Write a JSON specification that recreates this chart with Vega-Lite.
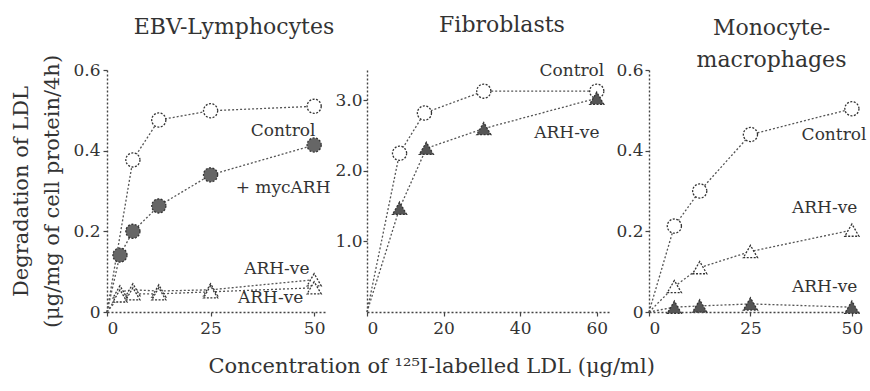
{
  "$schema": "https://vega.github.io/schema/vega-lite/v6.json",
  "padding": {"left": 10, "top": 14, "right": 5, "bottom": 5},
  "background": "white",
  "bounds": "flush",
  "spacing": 40,
  "config": {
    "font": "DejaVu Serif",
    "view": {"stroke": null},
    "axis": {
      "domainDash": [2, 2], "domainColor": "#444", "domainWidth": 1.4,
      "tickColor": "#444", "tickSize": 4, "tickWidth": 1.2,
      "labelFont": "DejaVu Serif", "labelFontSize": 17, "labelColor": "#333",
      "grid": false, "titleFont": "DejaVu Serif", "titleFontWeight": "normal", "titleColor": "#333"
    },
    "title": {"font": "DejaVu Serif", "fontWeight": "normal", "color": "#333", "fontSize": 22}
  },
  "title": {"text": "Concentration of ¹²⁵I-labelled LDL  (μg/ml)", "orient": "bottom", "anchor": "middle", "fontSize": 21, "offset": 20, "dx": -7},
  "resolve": {"scale": {"x": "independent", "y": "independent", "shape": "independent", "fill": "independent"}},
  "datasets": {
    "curves": [
      {"panel": "EBV", "series": "Control", "conc": 0, "deg": 0},
      {"panel": "EBV", "series": "Control", "conc": 6.25, "deg": 0.377},
      {"panel": "EBV", "series": "Control", "conc": 12.5, "deg": 0.476},
      {"panel": "EBV", "series": "Control", "conc": 25, "deg": 0.499},
      {"panel": "EBV", "series": "Control", "conc": 50, "deg": 0.51},
      {"panel": "EBV", "series": "+ mycARH", "conc": 0, "deg": 0},
      {"panel": "EBV", "series": "+ mycARH", "conc": 3.125, "deg": 0.141},
      {"panel": "EBV", "series": "+ mycARH", "conc": 6.25, "deg": 0.2},
      {"panel": "EBV", "series": "+ mycARH", "conc": 12.5, "deg": 0.263},
      {"panel": "EBV", "series": "+ mycARH", "conc": 25, "deg": 0.34},
      {"panel": "EBV", "series": "+ mycARH", "conc": 50, "deg": 0.414},
      {"panel": "EBV", "series": "ARH-ve a", "conc": 0, "deg": 0},
      {"panel": "EBV", "series": "ARH-ve a", "conc": 3.125, "deg": 0.05},
      {"panel": "EBV", "series": "ARH-ve a", "conc": 6.25, "deg": 0.055},
      {"panel": "EBV", "series": "ARH-ve a", "conc": 12.5, "deg": 0.052},
      {"panel": "EBV", "series": "ARH-ve a", "conc": 25, "deg": 0.055},
      {"panel": "EBV", "series": "ARH-ve a", "conc": 50, "deg": 0.08},
      {"panel": "EBV", "series": "ARH-ve b", "conc": 0, "deg": 0},
      {"panel": "EBV", "series": "ARH-ve b", "conc": 3.125, "deg": 0.04},
      {"panel": "EBV", "series": "ARH-ve b", "conc": 6.25, "deg": 0.045},
      {"panel": "EBV", "series": "ARH-ve b", "conc": 12.5, "deg": 0.045},
      {"panel": "EBV", "series": "ARH-ve b", "conc": 25, "deg": 0.05},
      {"panel": "EBV", "series": "ARH-ve b", "conc": 50, "deg": 0.06},
      {"panel": "Fib", "series": "Control", "conc": 0, "deg": 0},
      {"panel": "Fib", "series": "Control", "conc": 8.5, "deg": 2.25},
      {"panel": "Fib", "series": "Control", "conc": 15, "deg": 2.82},
      {"panel": "Fib", "series": "Control", "conc": 30.5, "deg": 3.13},
      {"panel": "Fib", "series": "Control", "conc": 60, "deg": 3.13},
      {"panel": "Fib", "series": "ARH-ve b", "conc": 0, "deg": 0},
      {"panel": "Fib", "series": "ARH-ve b", "conc": 8.5, "deg": 1.47},
      {"panel": "Fib", "series": "ARH-ve b", "conc": 15.5, "deg": 2.32},
      {"panel": "Fib", "series": "ARH-ve b", "conc": 30.5, "deg": 2.6},
      {"panel": "Fib", "series": "ARH-ve b", "conc": 60, "deg": 3.03},
      {"panel": "Mono", "series": "Control", "conc": 0, "deg": 0},
      {"panel": "Mono", "series": "Control", "conc": 6.25, "deg": 0.213},
      {"panel": "Mono", "series": "Control", "conc": 12.5, "deg": 0.3},
      {"panel": "Mono", "series": "Control", "conc": 25, "deg": 0.44},
      {"panel": "Mono", "series": "Control", "conc": 50, "deg": 0.504},
      {"panel": "Mono", "series": "ARH-ve a", "conc": 0, "deg": 0},
      {"panel": "Mono", "series": "ARH-ve a", "conc": 6.25, "deg": 0.063},
      {"panel": "Mono", "series": "ARH-ve a", "conc": 12.5, "deg": 0.11},
      {"panel": "Mono", "series": "ARH-ve a", "conc": 25, "deg": 0.15},
      {"panel": "Mono", "series": "ARH-ve a", "conc": 50, "deg": 0.203},
      {"panel": "Mono", "series": "ARH-ve b", "conc": 0, "deg": 0},
      {"panel": "Mono", "series": "ARH-ve b", "conc": 6.25, "deg": 0.012},
      {"panel": "Mono", "series": "ARH-ve b", "conc": 12.5, "deg": 0.015},
      {"panel": "Mono", "series": "ARH-ve b", "conc": 25, "deg": 0.02},
      {"panel": "Mono", "series": "ARH-ve b", "conc": 50, "deg": 0.012}
    ],
    "labels": [
      {"panel": "EBV", "label": "Control", "conc": 42.5, "deg": 0.449},
      {"panel": "EBV", "label": "+ mycARH", "conc": 42.5, "deg": 0.308},
      {"panel": "EBV", "label": "ARH-ve", "conc": 41, "deg": 0.106},
      {"panel": "EBV", "label": "ARH-ve", "conc": 39.5, "deg": 0.035},
      {"panel": "Fib", "label": "Control", "conc": 53.5, "deg": 3.41},
      {"panel": "Fib", "label": "ARH-ve", "conc": 52.2, "deg": 2.53},
      {"panel": "Mono", "label": "Control", "conc": 45.6, "deg": 0.44},
      {"panel": "Mono", "label": "ARH-ve", "conc": 43.3, "deg": 0.258},
      {"panel": "Mono", "label": "ARH-ve", "conc": 43.3, "deg": 0.061}
    ]
  },
  "hconcat": [
    {
      "width": 220, "height": 242,
      "title": {"text": "EBV-Lymphocytes", "offset": 15, "dx": 17},
      "layer": [
        {
          "data": {"name": "curves"},
          "transform": [{"filter": "datum.panel == 'EBV'"}],
          "mark": {"type": "line", "color": "#555", "strokeDash": [2, 2], "strokeWidth": 1.3},
          "encoding": {
            "x": {"field": "conc", "type": "quantitative", "scale": {"domain": [0, 53.1], "nice": false},
                  "axis": {"values": [0, 25, 50], "title": null, "labelPadding": 4}},
            "y": {"field": "deg", "type": "quantitative", "scale": {"domain": [0, 0.6], "nice": false},
                  "axis": {"values": [0, 0.2, 0.4, 0.6], "labelExpr": "datum.value == 0 ? '0' : format(datum.value, '.1f')",
                           "title": ["Degradation of LDL", "(μg/mg of cell protein/4h)"], "titleFontSize": 21, "titleLineHeight": 31, "titlePadding": 10, "labelPadding": 3}},
            "detail": {"field": "series"}
          }
        },
        {
          "data": {"name": "curves"},
          "transform": [{"filter": "datum.panel == 'EBV' && datum.conc > 0"}],
          "mark": {"type": "point", "filled": true, "stroke": "#333", "strokeWidth": 1.3, "strokeDash": [2, 1.5], "size": 200, "opacity": 1},
          "encoding": {
            "x": {"field": "conc", "type": "quantitative"},
            "y": {"field": "deg", "type": "quantitative"},
            "shape": {"field": "series", "type": "nominal", "legend": null,
                      "scale": {"domain": ["Control", "+ mycARH", "ARH-ve a", "ARH-ve b"], "range": ["circle", "circle", "triangle-up", "triangle-up"]}},
            "fill": {"field": "series", "type": "nominal", "legend": null,
                     "scale": {"domain": ["Control", "+ mycARH", "ARH-ve a", "ARH-ve b"], "range": ["white", "#666", "white", "white"]}}
          }
        },
        {
          "data": {"name": "labels"},
          "transform": [{"filter": "datum.panel == 'EBV'"}],
          "mark": {"type": "text", "fontSize": 17, "color": "#333", "align": "center", "baseline": "middle"},
          "encoding": {
            "x": {"field": "conc", "type": "quantitative"},
            "y": {"field": "deg", "type": "quantitative"},
            "text": {"field": "label"}
          }
        }
      ]
    },
    {
      "width": 242, "height": 242,
      "title": {"text": "Fibroblasts", "offset": 25, "dx": 14},
      "layer": [
        {
          "data": {"name": "curves"},
          "transform": [{"filter": "datum.panel == 'Fib'"}],
          "mark": {"type": "line", "color": "#555", "strokeDash": [2, 2], "strokeWidth": 1.3},
          "encoding": {
            "x": {"field": "conc", "type": "quantitative", "scale": {"domain": [0, 63.2], "nice": false},
                  "axis": {"values": [0, 20, 40, 60], "title": null, "labelPadding": 4}},
            "y": {"field": "deg", "type": "quantitative", "scale": {"domain": [0, 3.43], "nice": false},
                  "axis": {"values": [1, 2, 3], "format": ".1f", "title": null, "labelPadding": 1}},
            "detail": {"field": "series"}
          }
        },
        {
          "data": {"name": "curves"},
          "transform": [{"filter": "datum.panel == 'Fib' && datum.conc > 0"}],
          "mark": {"type": "point", "filled": true, "stroke": "#333", "strokeWidth": 1.3, "strokeDash": [2, 1.5], "size": 200, "opacity": 1},
          "encoding": {
            "x": {"field": "conc", "type": "quantitative"},
            "y": {"field": "deg", "type": "quantitative"},
            "shape": {"field": "series", "type": "nominal", "legend": null,
                      "scale": {"domain": ["Control", "ARH-ve b"], "range": ["circle", "triangle-up"]}},
            "fill": {"field": "series", "type": "nominal", "legend": null,
                     "scale": {"domain": ["Control", "ARH-ve b"], "range": ["white", "#555"]}}
          }
        },
        {
          "data": {"name": "labels"},
          "transform": [{"filter": "datum.panel == 'Fib'"}],
          "mark": {"type": "text", "fontSize": 17, "color": "#333", "align": "center", "baseline": "middle"},
          "encoding": {
            "x": {"field": "conc", "type": "quantitative"},
            "y": {"field": "deg", "type": "quantitative"},
            "text": {"field": "label"}
          }
        }
      ]
    },
    {
      "width": 211, "height": 242,
      "title": {"text": ["Monocyte-", "macrophages"], "offset": -11, "dx": 17, "lineHeight": 32},
      "layer": [
        {
          "data": {"name": "curves"},
          "transform": [{"filter": "datum.panel == 'Mono'"}],
          "mark": {"type": "line", "color": "#555", "strokeDash": [2, 2], "strokeWidth": 1.3},
          "encoding": {
            "x": {"field": "conc", "type": "quantitative", "scale": {"domain": [0, 52], "nice": false},
                  "axis": {"values": [0, 25, 50], "title": null, "labelPadding": 4}},
            "y": {"field": "deg", "type": "quantitative", "scale": {"domain": [0, 0.6], "nice": false},
                  "axis": {"values": [0, 0.2, 0.4, 0.6], "labelExpr": "datum.value == 0 ? '0' : format(datum.value, '.1f')", "title": null, "labelPadding": 2}},
            "detail": {"field": "series"}
          }
        },
        {
          "data": {"name": "curves"},
          "transform": [{"filter": "datum.panel == 'Mono' && datum.conc > 0"}],
          "mark": {"type": "point", "filled": true, "stroke": "#333", "strokeWidth": 1.3, "strokeDash": [2, 1.5], "size": 200, "opacity": 1},
          "encoding": {
            "x": {"field": "conc", "type": "quantitative"},
            "y": {"field": "deg", "type": "quantitative"},
            "shape": {"field": "series", "type": "nominal", "legend": null,
                      "scale": {"domain": ["Control", "ARH-ve a", "ARH-ve b"], "range": ["circle", "triangle-up", "triangle-up"]}},
            "fill": {"field": "series", "type": "nominal", "legend": null,
                     "scale": {"domain": ["Control", "ARH-ve a", "ARH-ve b"], "range": ["white", "white", "#555"]}}
          }
        },
        {
          "data": {"name": "labels"},
          "transform": [{"filter": "datum.panel == 'Mono'"}],
          "mark": {"type": "text", "fontSize": 17, "color": "#333", "align": "center", "baseline": "middle"},
          "encoding": {
            "x": {"field": "conc", "type": "quantitative"},
            "y": {"field": "deg", "type": "quantitative"},
            "text": {"field": "label"}
          }
        }
      ]
    }
  ]
}
